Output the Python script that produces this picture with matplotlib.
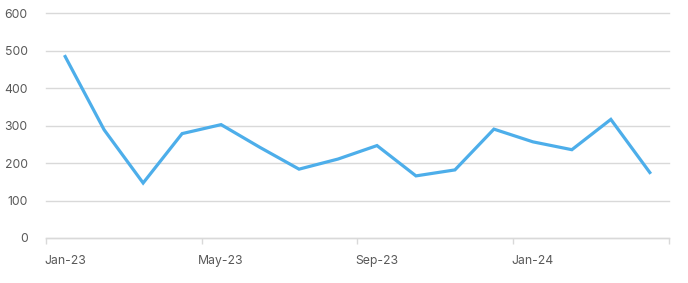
import numpy as np
import matplotlib.pyplot as plt

# monthly values, Jan-23 .. Apr-24
months = ['Jan-23', 'Feb-23', 'Mar-23', 'Apr-23', 'May-23', 'Jun-23', 'Jul-23', 'Aug-23',
          'Sep-23', 'Oct-23', 'Nov-23', 'Dec-23', 'Jan-24', 'Feb-24', 'Mar-24', 'Apr-24']
values = [485, 289, 147, 279, 303, 242, 184, 211, 247, 166, 182, 291, 257, 236, 317, 175]
y_ticks = [0, 100, 200, 300, 400, 500, 600]

plt.rcParams['font.family'] = ['Inter', 'DejaVu Sans']
text_col = '#595959'
grid_col = '#d9d9d9'

fig = plt.figure(figsize=(6.88, 2.83), dpi=100)
ax = fig.add_axes([45.7/688, 1 - 238/283, (669.3 - 45.7)/688, (238 - 13.5)/283])

x = np.arange(len(months))
ax.plot(x, values, color='#4daeea', linewidth=2.3, solid_joinstyle='miter')

ax.set_xlim(-0.5, len(months) - 0.5)
ax.set_ylim(0, 600)
ax.set_yticks(y_ticks)
ax.grid(axis='y', color=grid_col, linewidth=1)
for gl in ax.get_ygridlines():
    gl.set_clip_on(False)
ax.set_axisbelow(True)

# labels every 4th month, tick marks on category boundaries
ax.set_xticks(x[::4])
ax.set_xticklabels(months[::4])
ax.set_xticks(np.arange(-0.5, len(months), 4), minor=True)
ax.tick_params(axis='x', which='major', length=0, pad=12, colors=text_col, labelsize=8.8)
ax.tick_params(axis='x', which='minor', length=4, color=grid_col, width=1)
ax.tick_params(axis='y', length=0, pad=13, colors=text_col, labelsize=8.8)

for side in ['top', 'right', 'left']:
    ax.spines[side].set_visible(False)
ax.spines['bottom'].set_color(grid_col)
ax.spines['bottom'].set_linewidth(1)

fig.savefig('out.png', dpi=100)
